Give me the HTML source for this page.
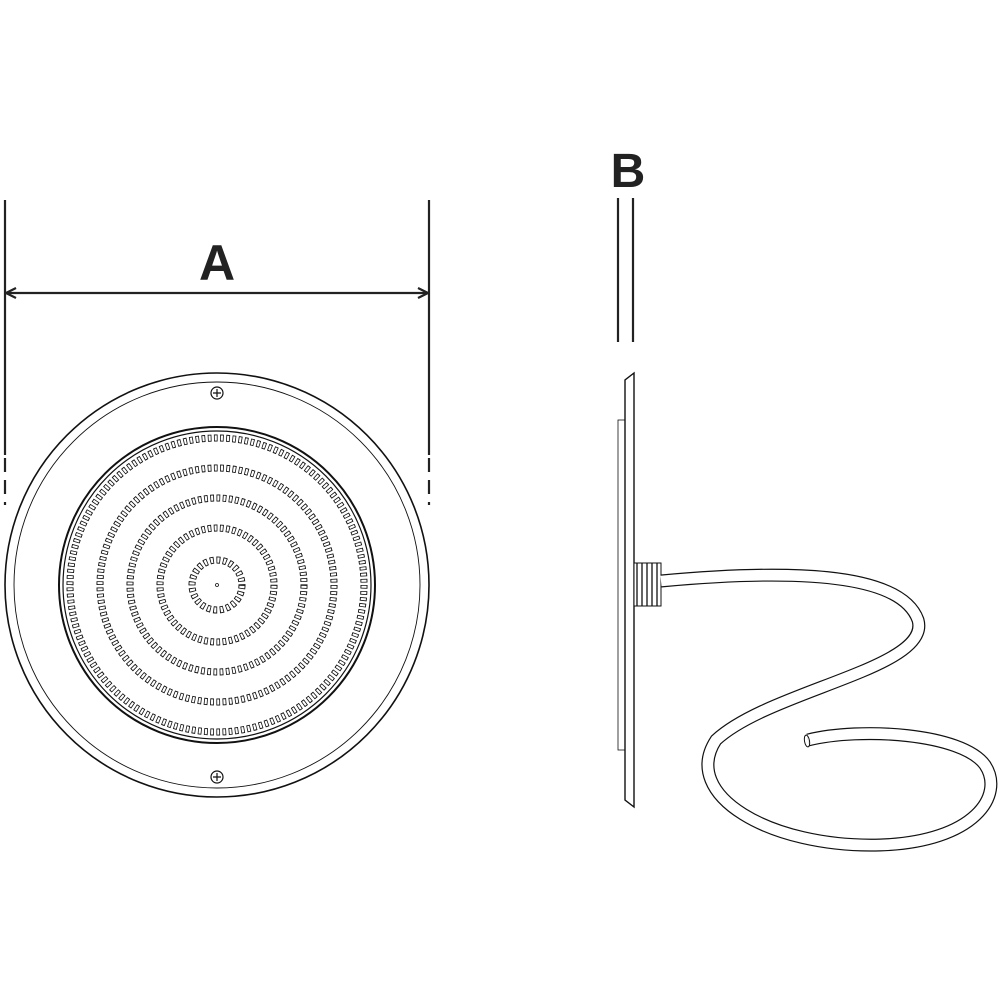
<!DOCTYPE html>
<html><head><meta charset="utf-8"><style>html,body{margin:0;padding:0;background:#fff}svg{display:block}</style></head>
<body>
<svg width="1000" height="1000" viewBox="0 0 1000 1000" xmlns="http://www.w3.org/2000/svg">
<defs>
<marker id="ar" viewBox="0 0 12 12" refX="11" refY="6" markerWidth="12" markerHeight="12" orient="auto-start-reverse" markerUnits="userSpaceOnUse">
<path d="M1,1 L11,6 L1,11" fill="none" stroke="#222" stroke-width="2.2"/></marker>
</defs>
<g stroke="#222" stroke-width="2.2" fill="none">
<line x1="5" y1="200" x2="5" y2="455"/><line x1="429" y1="200" x2="429" y2="455"/>
<line x1="5" y1="458" x2="5" y2="505" stroke-dasharray="14,8"/>
<line x1="429" y1="458" x2="429" y2="505" stroke-dasharray="14,8"/>
<line x1="6" y1="293" x2="428" y2="293" marker-start="url(#ar)" marker-end="url(#ar)"/>
<line x1="618" y1="198" x2="618" y2="342"/><line x1="633" y1="198" x2="633" y2="342"/>
</g>
<text x="217" y="280" font-family="Liberation Sans, sans-serif" font-weight="bold" font-size="50" text-anchor="middle" fill="#222">A</text>
<text x="628" y="187" font-family="Liberation Sans, sans-serif" font-weight="bold" font-size="48" text-anchor="middle" fill="#222">B</text>
<g fill="none" stroke="#111">
<circle cx="217" cy="585" r="212" stroke-width="1.6"/>
<circle cx="217" cy="585" r="203" stroke-width="0.9"/>
<circle cx="217" cy="585" r="158" stroke-width="2"/>
<circle cx="217" cy="585" r="154" stroke-width="1.2"/>
<circle cx="217" cy="393" r="6" stroke-width="1.2"/>
<path d="M213,393h8M217,389v8" stroke-width="1.2"/>
<circle cx="217" cy="777" r="6" stroke-width="1.2"/>
<path d="M213,777h8M217,773v8" stroke-width="1.2"/>
<circle cx="217" cy="585" r="1.5" stroke-width="0.8"/>
<g stroke="#111" stroke-width="7" stroke-dasharray="6 4">
<circle cx="217" cy="585" r="147" pathLength="1500"/>
<circle cx="217" cy="585" r="117" pathLength="1180"/>
<circle cx="217" cy="585" r="87" pathLength="880"/>
<circle cx="217" cy="585" r="57" pathLength="580"/>
<circle cx="217" cy="585" r="25" pathLength="240"/>
</g>
<g stroke="#fff" stroke-width="5.2" stroke-dasharray="3.4 6.6" stroke-dashoffset="-1.3">
<circle cx="217" cy="585" r="147" pathLength="1500"/>
<circle cx="217" cy="585" r="117" pathLength="1180"/>
<circle cx="217" cy="585" r="87" pathLength="880"/>
<circle cx="217" cy="585" r="57" pathLength="580"/>
<circle cx="217" cy="585" r="25" pathLength="240"/>
</g>
</g>
<g fill="none" stroke="#111">
<path d="M634,373 L634,807 L625,800 L625,380 Z" stroke-width="1.4"/>
<rect x="618" y="420" width="7" height="330" stroke-width="0.8"/>
<rect x="634" y="563" width="27" height="43" stroke-width="1" fill="#fff"/>
<path d="M637,563v43M642,563v43M647,563v43M652,563v43M657,563v43" stroke-width="1.3"/>
<path d="M661,581 C780,570 900,570 918,620 C932,668 770,690 716,740 C680,795 770,848 880,845 C975,842 1005,795 985,765 C962,733 860,727 808,740" stroke="#111" stroke-width="13"/>
<path d="M661,581 C780,570 900,570 918,620 C932,668 770,690 716,740 C680,795 770,848 880,845 C975,842 1005,795 985,765 C962,733 860,727 808,740" stroke="#fff" stroke-width="10.6"/>
<ellipse cx="807" cy="741" rx="2.5" ry="6" stroke-width="1" transform="rotate(-10 807 741)"/>
</g>
</svg>
</body></html>
